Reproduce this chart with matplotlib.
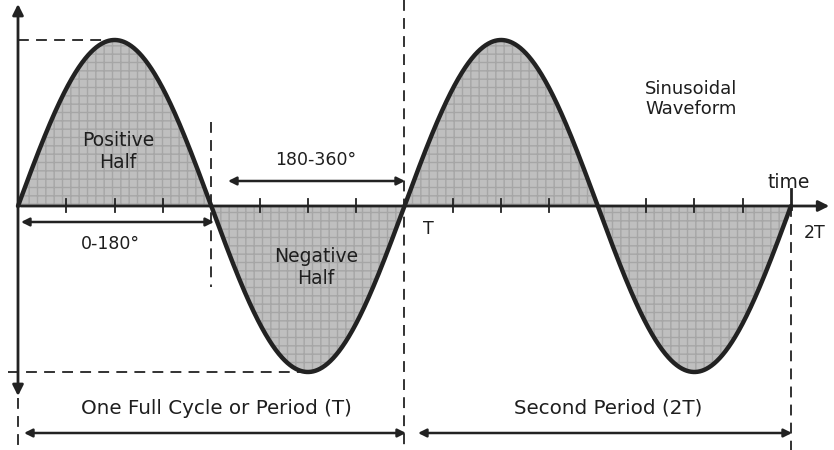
import numpy as np
import matplotlib
matplotlib.use("Agg")
import matplotlib.pyplot as plt

# ---- data ----
amplitude = 1.0
period_deg = 360
n_periods = 2
tick_degrees = [45, 90, 135, 225, 270, 315, 405, 450, 495, 585, 630, 675]
half_labels = ["Positive\nHalf", "Negative\nHalf"]
range_labels = ["0-180°", "180-360°"]
period_labels = ["One Full Cycle or Period (T)", "Second Period (2T)"]
point_labels = ["T", "2T"]
axis_label = "time"
title_label = "Sinusoidal\nWaveform"

# ---- layout helpers (pixel -> data) ----
X0, SX = 18.0, 1.0736   # px of 0 deg, px per degree
Y0, SY = 206.0, 166.0   # px of zero amplitude, px per unit amplitude
def X(px): return (px - X0) / SX
def Y(py): return (Y0 - py) / SY

fig = plt.figure(figsize=(8.34, 4.5), dpi=100)
ax = fig.add_axes([0, 0, 1, 1])
ax.set_xlim(X(0), X(834))
ax.set_ylim(Y(450), Y(0))
ax.axis("off")

ink = "#222222"
theta = np.linspace(0, period_deg * n_periods, 1441)
wave = amplitude * np.sin(np.radians(theta))

# shaded halves
ax.fill_between(theta, 0, wave, facecolor="#bfbfbf", edgecolor="#a6a6a6",
                hatch="++", linewidth=0, zorder=1)
ax.plot(theta, wave, color=ink, lw=3.2, solid_capstyle="round", zorder=4)

# axes
arrow_kw = dict(color=ink, lw=2.0)
ax.annotate("", xy=(X(832), 0), xytext=(0, 0),
            arrowprops=dict(arrowstyle="-|>", mutation_scale=16, **arrow_kw), zorder=5)
ax.annotate("", xy=(0, Y(4)), xytext=(0, Y(396)),
            arrowprops=dict(arrowstyle="<|-|>", mutation_scale=16, shrinkA=0, shrinkB=0, **arrow_kw), zorder=5)

# ticks
tick_h = 6.5 / SY
for d in tick_degrees:
    ax.plot([d, d], [-tick_h, tick_h], color=ink, lw=1.3, zorder=5)
ax.plot([720, 720], [-0.02, 0.10], color=ink, lw=2.0, zorder=5)

# dashed guides
dash = dict(color=ink, lw=1.3, linestyle=(0, (6, 4)), zorder=3)
ax.plot([0, 90], [amplitude, amplitude], **dash)
ax.plot([X(8), 270], [-amplitude, -amplitude], **dash)
ax.plot([180, 180], [Y(122), Y(287)], **dash)
ax.plot([360, 360], [Y(0), Y(450)], **dash)
ax.plot([720, 720], [0, Y(450)], **dash)
ax.plot([0, 0], [Y(398), Y(450)], **dash)

# range arrows
dbl = dict(arrowstyle="<|-|>", mutation_scale=12, shrinkA=0, shrinkB=0, color=ink, lw=1.8)
ax.annotate("", xy=(X(214), Y(222)), xytext=(X(21), Y(222)), arrowprops=dbl)
ax.annotate("", xy=(X(405), Y(181)), xytext=(X(228), Y(181)), arrowprops=dbl)
ax.annotate("", xy=(X(406), Y(433)), xytext=(X(24), Y(433)), arrowprops=dbl)
ax.annotate("", xy=(X(792), Y(433)), xytext=(X(418), Y(433)), arrowprops=dbl)

# text
tk = dict(color="#1e1e1e", family="DejaVu Sans")
ax.text(X(118), Y(152), half_labels[0], ha="center", va="center", linespacing=1.2, fontsize=13.5, **tk)
ax.text(X(316), Y(268), half_labels[1], ha="center", va="center", linespacing=1.2, fontsize=13.5, **tk)
ax.text(X(110), Y(244), range_labels[0], ha="center", va="center", fontsize=12.5, **tk)
ax.text(X(316), Y(160), range_labels[1], ha="center", va="center", fontsize=12.5, **tk)
ax.text(X(428), Y(229), point_labels[0], ha="center", va="center", fontsize=12.5, **tk)
ax.text(X(815), Y(233), point_labels[1], ha="center", va="center", fontsize=12.5, **tk)
ax.text(X(789), Y(182), axis_label, ha="center", va="center", fontsize=13.5, **tk)
ax.text(X(645), Y(99), title_label, ha="left", va="center", multialignment="left",
        linespacing=1.2, fontsize=13, **tk)
ax.text(X(216), Y(408), period_labels[0], ha="center", va="center", fontsize=14.3, **tk)
ax.text(X(608), Y(408), period_labels[1], ha="center", va="center", fontsize=14.3, **tk)

fig.savefig("out.png", dpi=100, facecolor="white")
